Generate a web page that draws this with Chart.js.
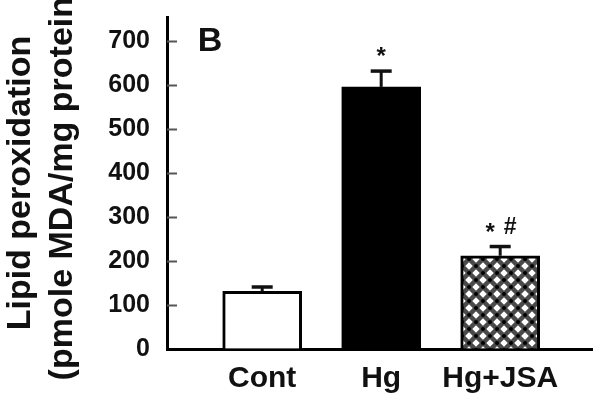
<!DOCTYPE html>
<html>
<head>
<meta charset="utf-8">
<title>Lipid peroxidation</title>
<script src="https://cdn.jsdelivr.net/npm/chart.js@4/dist/chart.umd.min.js"></script>
<style>
  html, body { margin: 0; padding: 0; background: #fff; }
  #wrap { width: 593px; height: 393px; }
</style>
</head>
<body>
<div id="wrap"><canvas id="lipidChart" width="593" height="393"></canvas></div>
<script>
/* global Chart */

const categories = ['Cont', 'Hg', 'Hg+JSA']
const means = [131, 596, 212]
const errorTops = [141, 632, 233]
const marks = ['', '*', '*#']
const yTicks = [0, 100, 200, 300, 400, 500, 600, 700]
const panelLetter = 'B'
const yTitle = ['Lipid peroxidation', '(pmole MDA/mg protein)']

const FONT = "'Liberation Sans', Arial, Helvetica, sans-serif"
const INK = '#111'

// cross-hatch fill for the Hg+JSA bar
function makeHatch () {
  const size = 14
  const c = document.createElement('canvas')
  c.width = size
  c.height = size
  const g = c.getContext('2d')
  g.fillStyle = '#fff'
  g.fillRect(0, 0, size, size)
  g.strokeStyle = '#4a4a4a'
  g.lineWidth = 4.5
  for (let k = -1; k <= 1; k++) {
    g.beginPath()
    g.moveTo(-2, -2 + k * size)
    g.lineTo(size + 2, size + 2 + k * size)
    g.stroke()
    g.beginPath()
    g.moveTo(-2, size + 2 + k * size)
    g.lineTo(size + 2, -2 + k * size)
    g.stroke()
  }
  g.fillStyle = '#000'
  const pts = [[size / 2, size / 2], [0, 0], [size, 0], [0, size], [size, size]]
  pts.forEach(([x, y]) => {
    g.beginPath()
    g.arc(x, y, 2, 0, Math.PI * 2)
    g.fill()
  })
  return g.createPattern(c, 'repeat')
}

const extras = {
  id: 'extras',
  afterDatasetsDraw (chart) {
    const { ctx, chartArea, scales } = chart
    const y = scales.y
    const bars = chart.getDatasetMeta(0).data
    ctx.save()

    // inward tick marks on the y axis
    ctx.strokeStyle = '#555'
    ctx.lineWidth = 2
    yTicks.forEach(v => {
      if (v === 0) return
      const py = Math.round(y.getPixelForValue(v)) + 0.5
      ctx.beginPath()
      ctx.moveTo(chartArea.left, py)
      ctx.lineTo(chartArea.left + 10, py)
      ctx.stroke()
    })

    // error bars
    ctx.strokeStyle = '#111'
    bars.forEach((bar, i) => {
      const top = y.getPixelForValue(errorTops[i])
      ctx.lineWidth = 3
      ctx.beginPath()
      ctx.moveTo(bar.x, bar.y)
      ctx.lineTo(bar.x, top)
      ctx.stroke()
      ctx.lineWidth = 3.5
      ctx.beginPath()
      ctx.moveTo(bar.x - 10.5, top)
      ctx.lineTo(bar.x + 10.5, top)
      ctx.stroke()
    })

    // significance marks
    ctx.fillStyle = INK
    ctx.textAlign = 'center'
    ctx.textBaseline = 'alphabetic'
    bars.forEach((bar, i) => {
      const chars = marks[i].split('')
      const mid = y.getPixelForValue(errorTops[i]) - 21
      chars.forEach((ch, j) => {
        const cx = bar.x + (j - (chars.length - 1) / 2) * 20
        if (ch === '*') {
          ctx.font = 'bold 24px ' + FONT
          ctx.fillText(ch, cx, mid + 14)
        } else {
          ctx.font = 'bold 23px ' + FONT
          ctx.fillText(ch, cx, mid + 8)
        }
      })
    })

    // panel letter
    ctx.font = 'bold 34px ' + FONT
    ctx.textAlign = 'center'
    ctx.fillStyle = INK
    ctx.fillText(panelLetter, chartArea.left + 43, chartArea.top + 34)
    ctx.restore()
  }
}

window.addEventListener('load', function () {
  const ctx = document.getElementById('lipidChart').getContext('2d')
  const hatch = makeHatch()

  // eslint-disable-next-line no-unused-vars
  const lipidChart = new Chart(ctx, {
    type: 'bar',
    data: {
      datasets: [
        {
          data: means.map((v, i) => ({ x: i + 1, y: v })),
          backgroundColor: ['#ffffff', '#000000', hatch],
          borderColor: '#000',
          borderWidth: 3,
          barThickness: 79
        }
      ]
    },
    plugins: [extras],
    options: {
      responsive: false,
      animation: false,
      layout: { padding: { top: 17, left: 0, right: 0, bottom: 0 } },
      plugins: {
        legend: { display: false },
        tooltip: { enabled: false }
      },
      scales: {
        x: {
          type: 'linear',
          offset: false,
          min: 0.2,
          max: 3.78,
          afterBuildTicks: (s) => { s.ticks = categories.map((c, i) => ({ value: i + 1 })) },
          afterFit: (s) => { s.height = 44; s.paddingLeft = 0; s.paddingRight = 0 },
          grid: { display: true, offset: false, drawOnChartArea: false, drawTicks: false },
          border: { display: true, color: '#000', width: 3 },
          ticks: {
            callback: (v, i) => categories[i],
            autoSkip: false,
            maxRotation: 0,
            padding: 12,
            color: INK,
            font: { family: FONT, size: 30, weight: 'bold' }
          }
        },
        y: {
          min: 0,
          max: 755,
          afterBuildTicks: (s) => { s.ticks = yTicks.map(v => ({ value: v })) },
          afterFit: (s) => { s.width = 167; s.paddingTop = 0; s.paddingBottom = 0 },
          grid: { display: true, drawOnChartArea: false, drawTicks: false },
          border: { display: true, color: '#000', width: 3 },
          ticks: {
            padding: 17,
            color: INK,
            font: { family: FONT, size: 25, weight: 'bold' }
          },
          title: {
            display: true,
            text: yTitle,
            color: INK,
            padding: 0,
            font: { family: FONT, size: 34, weight: 'bold', lineHeight: '42px' }
          }
        }
      }
    }
  })
})
</script>
</body>
</html>
